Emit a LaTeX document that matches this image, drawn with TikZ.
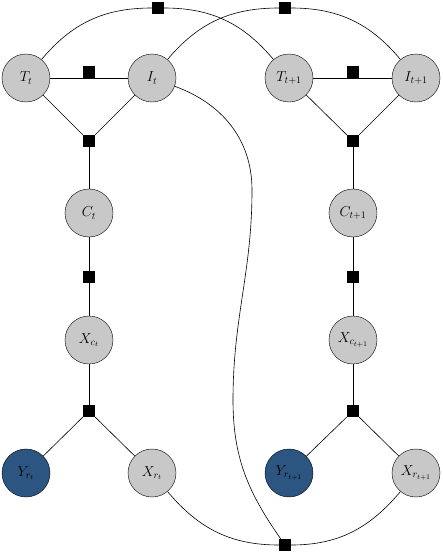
\documentclass[tikz,border=0pt]{standalone}
\begin{document}
\begin{tikzpicture}[x=1pt,y=-1pt,
  var/.style={circle,draw,fill=nodegray,minimum size=48pt,inner sep=0pt,font=\Large},
  obs/.style={circle,draw,fill=nodeblue,minimum size=48pt,inner sep=0pt,font=\Large},
  fac/.style={rectangle,fill=black,minimum size=12pt,inner sep=0pt},
  edge/.style={line width=0.6pt}]
\definecolor{nodegray}{RGB}{200,200,200}
\definecolor{nodeblue}{RGB}{44,85,130}
\useasboundingbox (0,0) rectangle (443,554);
% left slice
\node[var] (Tt) at (26,78) {$T_t$};
\node[var] (It) at (152,78) {$I_t$};
\node[var] (Ct) at (89,213) {$C_t$};
\node[var] (Xct) at (89,340) {$X_{c_t}$};
\node[obs] (Yrt) at (26,473) {$Y_{r_t}$};
\node[var] (Xrt) at (152,473) {$X_{r_t}$};
% right slice
\node[var] (Tt1) at (289,78) {$T_{t+1}$};
\node[var] (It1) at (416,78) {$I_{t+1}$};
\node[var] (Ct1) at (353,213) {$C_{t+1}$};
\node[var] (Xct1) at (353,340) {$X_{c_{t+1}}$};
\node[obs] (Yrt1) at (289,473) {$Y_{r_{t+1}}$};
\node[var] (Xrt1) at (416,473) {$X_{r_{t+1}}$};
% factors
\node[fac,anchor=south] (fTI) at (89,78) {};
\node[fac,anchor=south] (fTI1) at (353,78) {};
\node[fac] (fA) at (89,141) {};
\node[fac] (fA1) at (353,141) {};
\node[fac] (fB) at (89,277) {};
\node[fac] (fB1) at (353,277) {};
\node[fac] (fC) at (89,411) {};
\node[fac] (fC1) at (353,411) {};
\node[fac] (fT) at (158,8) {};
\node[fac] (fI) at (285,8) {};
\node[fac] (fX) at (285,545) {};
\coordinate (s1) at (252,190);
\coordinate (s2) at (233,400);
% edges left
\draw[edge] (Tt) -- (It);
\draw[edge] (Tt) -- (fA);
\draw[edge] (It) -- (fA);
\draw[edge] (fA) -- (Ct);
\draw[edge] (Ct) -- (fB);
\draw[edge] (fB) -- (Xct);
\draw[edge] (Xct) -- (fC);
\draw[edge] (fC) -- (Yrt);
\draw[edge] (fC) -- (Xrt);
% edges right
\draw[edge] (Tt1) -- (It1);
\draw[edge] (Tt1) -- (fA1);
\draw[edge] (It1) -- (fA1);
\draw[edge] (fA1) -- (Ct1);
\draw[edge] (Ct1) -- (fB1);
\draw[edge] (fB1) -- (Xct1);
\draw[edge] (Xct1) -- (fC1);
\draw[edge] (fC1) -- (Yrt1);
\draw[edge] (fC1) -- (Xrt1);
% temporal arcs
\draw[edge] (Tt) to[out=50,in=180] (fT) to[out=0,in=130] (Tt1);
\draw[edge] (It) to[out=50,in=180] (fI) to[out=0,in=130] (It1);
\draw[edge] (Xrt) to[out=-50,in=180] (fX) to[out=0,in=-130] (Xrt1);
\draw[edge] (It) to[out=-20,in=90] (s1) to[out=-90,in=90] (s2) to[out=-90,in=125] (fX);
\end{tikzpicture}
\end{document}
